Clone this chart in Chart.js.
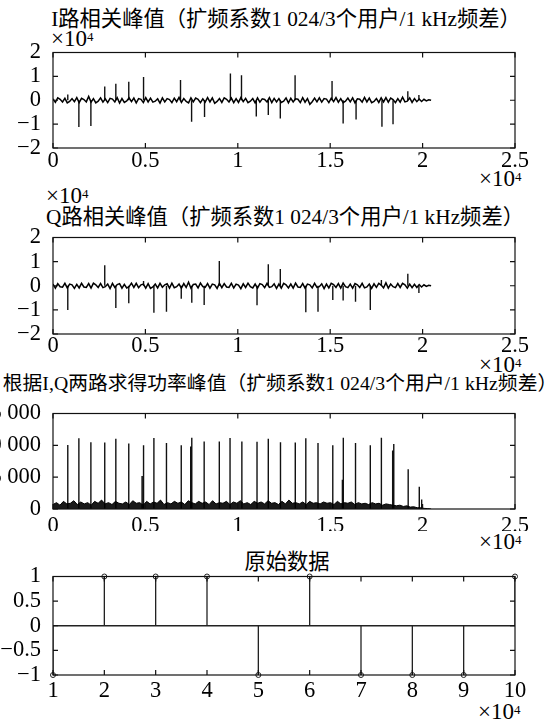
<!DOCTYPE html>
<html>
<head>
<meta charset="utf-8">
<script src="https://cdn.jsdelivr.net/npm/chart.js@4.4.1/dist/chart.umd.min.js"></script>
<style>
body { margin: 0; background: #fff; }
#wrap { position: relative; width: 548px; height: 723px; overflow: hidden; color: #000;
  font-family: "Liberation Serif", "Noto Sans CJK SC", serif; }
canvas { position: absolute; left: 0; }
.title { position: absolute; white-space: nowrap; font-size: 21.3px; line-height: 20px; transform: translateX(-50%); }
.exp { position: absolute; white-space: nowrap; font-size: 23px; line-height: 23px; }
.exp sup { font-size: 13px; position: relative; top: -2px; vertical-align: top; }
</style>
</head>
<body>
<div id="wrap">
  <div class="title" style="left:286px; top:9px">I路相关峰值（扩频系数1 024/3个用户/1 kHz频差）</div>
  <div class="exp" style="left:51px; top:27px">×10<sup>4</sup></div>
  <div class="exp" style="left:479px; top:167px">×10<sup>4</sup></div>

  <div class="exp" style="left:46px; top:184px">×10<sup>4</sup></div>
  <div class="title" style="left:285px; top:207px">Q路相关峰值（扩频系数1 024/3个用户/1 kHz频差）</div>
  <div class="exp" style="left:479px; top:353px">×10<sup>4</sup></div>

  <div class="title" style="left:280px; top:373px; font-size:19.8px">根据I,Q两路求得功率峰值（扩频系数1 024/3个用户/1 kHz频差）</div>
  <div class="exp" style="left:479px; top:530px">×10<sup>4</sup></div>

  <div class="title" style="left:287px; top:552px">原始数据</div>
  <div class="exp" style="left:478px; top:700px">×10<sup>4</sup></div>

  <canvas id="cI"></canvas>
  <canvas id="cQ"></canvas>
  <canvas id="cP"></canvas>
  <canvas id="cS"></canvas>
</div>
<script>
// x in units of 1e4 samples, I/Q amplitude in units of 1e4
var traceEnd = 2.046;

var iPeakX = [0.08, 0.14, 0.205, 0.28, 0.34, 0.41, 0.49, 0.69, 0.75, 0.82, 0.96, 1.02,
  1.10, 1.165, 1.23, 1.31, 1.51, 1.57, 1.64, 1.78, 1.84, 1.92, 1.98];
var iPeakY = [0.24, -1.12, -1.08, 0.58, 0.69, 0.77, 0.97, 0.85, -0.9, -0.7, 1.12, 1.05,
  -0.68, -0.62, -0.76, 1.05, 0.81, -0.97, -0.81, -1.11, -1.01, 0.38, 0.22];

var qPeakX = [0.08, 0.28, 0.34, 0.41, 0.49, 0.546, 0.614, 0.694, 0.751, 0.818, 0.90, 1.104,
  1.165, 1.23, 1.368, 1.434, 1.514, 1.57, 1.637, 1.717, 1.777, 1.92, 1.98];
var qPeakY = [-1.0, 0.85, -0.92, -0.73, 0.2, -1.12, -1.08, -0.54, -0.7, -0.8, 1.03, -0.81,
  0.89, 0.69, -1.1, -1.08, -0.59, -0.61, -0.66, -1.0, 0.24, 0.5, -0.3];

var pPeakX = [0.08, 0.14, 0.205, 0.28, 0.34, 0.41, 0.482, 0.49, 0.546, 0.614, 0.694, 0.745, 0.751,
  0.818, 0.90, 0.958, 1.022, 1.104, 1.165, 1.231, 1.311, 1.368, 1.434, 1.514, 1.566, 1.571,
  1.637, 1.717, 1.777, 1.838, 1.844, 1.922, 1.982, 1.995];
var pPeakY = [10050, 11100, 10500, 10450, 11050, 10300, 5200, 10000, 11150, 10350, 10000, 9800, 11200,
  10600, 10600, 11150, 10600, 10550, 11050, 10500, 10450, 11100, 10350, 10000, 4600, 11200,
  10350, 10000, 11200, 9200, 10200, 6250, 3500, 1500];

var iNoise = [
  0.06, -0.09, 0.10, 0.04, -0.07, 0.08, -0.11, -0.05, 0.07, -0.06, 0.11, -0.10, 0.08, 0.03, -0.07, 0.16, -0.08, 0.07, -0.11, -0.04,
  0.10, -0.08, 0.06, -0.10, 0.08, 0.05, -0.07, 0.11, -0.12, 0.07, -0.09, -0.03, 0.10, -0.06, 0.09, -0.11, 0.07, 0.04, -0.10, 0.11,
  -0.07, 0.09, -0.08, -0.04, 0.06, -0.12, 0.10, -0.07, 0.07, 0.03, -0.10, 0.09, -0.06, 0.12, -0.09, 0.07, -0.05, -0.11, 0.10, -0.07,
  0.09, 0.04, -0.10, 0.06, -0.08, 0.11, -0.07, 0.10, -0.13, -0.05, 0.07, -0.09, 0.10, 0.04, -0.07, 0.09, -0.10, 0.07, -0.09, 0.11,
  -0.06, 0.08, -0.10, -0.04, 0.07, -0.11, 0.10, -0.08, 0.06, 0.03, -0.07, 0.11, -0.10, 0.08, -0.07, 0.07, -0.09, -0.04, 0.10, -0.11,
  0.08, -0.07, 0.06, 0.04, -0.10, 0.11, -0.08, 0.07, -0.17, -0.06, 0.09, -0.07, 0.10, -0.08, 0.07, 0.05, -0.10, 0.09, -0.06, 0.11,
  -0.08, 0.07, -0.10, -0.04, 0.09, -0.07, 0.10, -0.11, 0.06, 0.04, -0.08, 0.12, -0.07, 0.09, -0.10, -0.05, 0.07, -0.09, 0.10, -0.07,
  0.11, -0.08, 0.09, 0.03, -0.10, 0.07, -0.08, 0.13, -0.07, -0.04, 0.10, -0.09, 0.07, -0.06, 0.05, -0.05, 0.04, -0.03, 0.02, 0.00
];

var qNoise = [
  0.07, -0.10, 0.09, -0.04, -0.06, 0.10, -0.09, 0.07, 0.04, -0.11, 0.06, -0.09, 0.10, -0.05, -0.07, 0.09, -0.10, 0.11, 0.04, -0.07,
  0.09, -0.08, -0.04, 0.07, -0.12, 0.10, -0.07, 0.05, 0.09, -0.10, 0.06, -0.09, -0.04, 0.11, -0.07, 0.10, -0.08, 0.04, 0.07, -0.10,
  0.09, -0.11, -0.05, 0.07, -0.09, 0.10, -0.06, 0.04, 0.08, -0.10, 0.11, -0.08, -0.04, 0.07, -0.10, 0.09, -0.07, 0.15, -0.10, 0.05,
  0.07, -0.09, 0.11, -0.04, -0.07, 0.09, -0.10, 0.07, 0.04, -0.11, 0.10, -0.08, 0.09, -0.05, -0.07, 0.10, -0.09, 0.07, 0.03, -0.12,
  0.08, -0.07, 0.11, -0.04, -0.09, 0.07, -0.10, 0.09, 0.05, -0.08, 0.10, -0.07, -0.04, 0.08, -0.11, 0.07, -0.10, 0.10, 0.04, -0.09,
  0.07, -0.10, 0.11, -0.05, -0.07, 0.09, -0.10, 0.07, 0.04, -0.09, 0.10, -0.07, -0.04, 0.08, -0.12, 0.07, -0.09, 0.10, 0.05, -0.07,
  0.09, -0.10, 0.11, -0.04, -0.08, 0.07, -0.10, 0.09, 0.04, -0.07, 0.10, -0.09, -0.05, 0.07, -0.11, 0.08, -0.07, 0.10, 0.03, -0.09,
  0.12, -0.10, 0.07, -0.04, -0.08, 0.09, -0.07, 0.10, 0.04, -0.10, 0.07, -0.08, 0.06, -0.07, 0.05, -0.05, 0.04, -0.03, 0.02, 0.00
];

var pNoise = [
  700, 1000, 600, 1200, 800, 900, 1300, 700, 1100, 800, 1000, 600, 1200, 900, 1400, 800, 1000, 700, 1200, 900,
  800, 1100, 700, 1300, 900, 1000, 600, 1200, 800, 1100, 900, 1400, 700, 1000, 800, 1200, 900, 1100, 700, 1300,
  1000, 800, 1200, 900, 1100, 700, 1300, 800, 1000, 900, 1200, 700, 1100, 900, 1300, 800, 1000, 700, 1200, 900,
  1100, 800, 1300, 900, 1000, 700, 1200, 800, 1400, 900, 1000, 800, 1100, 700, 1200, 900, 1000, 800, 1100, 900,
  1000, 700, 1200, 800, 1000, 900, 1100, 700, 1000, 800, 900, 700, 1000, 800, 900, 600, 800, 700, 600, 500,
  600, 400, 500, 300, 350, 200, 200, 100, 60, 0
];

var stemX = [1, 2, 3, 4, 5, 6, 7, 8, 9, 10];
var stemY = [-1, 1, 1, 1, -1, 1, -1, -1, -1, 1];

var iTicksY = [-2, -1, 0, 1, 2];
var pTicksY = [0, 5000, 10000, 15000];

var plotLeft = 53, plotRight = 515;
// plot box edges and x label offset for each panel
var boxes = {
  cI: { top: 51, bottom: 148, lab: -8 },
  cQ: { top: 236, bottom: 334, lab: -9 },
  cP: { top: 412, bottom: 509, lab: -4 },
  cS: { top: 575, bottom: 675, lab: -5 }
};

var FONT = { family: "'Liberation Serif', serif", size: 22.5 };

function noisePoints(vals) {
  var step = traceEnd / (vals.length - 1);
  return vals.map(function (v, i) { return { x: i * step, y: v }; });
}

function spikes(xs, ys, base) {
  var pts = [];
  xs.forEach(function (x, i) {
    pts.push({ x: x, y: base }, { x: x, y: ys[i] }, { x: x, y: null });
  });
  return pts;
}

function minusFmt(v) {
  var s = String(Math.abs(v));
  return v < 0 ? '\u2212' + s : s;
}

function thousands(v) {
  return String(v).replace(/\B(?=(\d{3})+(?!\d))/g, ' ');
}

// MATLAB style box with inward ticks on all four sides
var boxTicks = {
  id: 'boxTicks',
  afterDraw: function (chart) {
    var a = chart.chartArea, ctx = chart.ctx, len = 5;
    ctx.save();
    ctx.strokeStyle = '#111';
    ctx.lineWidth = 1.2;
    ctx.strokeRect(a.left, a.top, a.right - a.left, a.bottom - a.top);
    ctx.beginPath();
    chart.scales.x.ticks.forEach(function (t) {
      var px = chart.scales.x.getPixelForValue(t.value);
      ctx.moveTo(px, a.bottom); ctx.lineTo(px, a.bottom - len);
      ctx.moveTo(px, a.top); ctx.lineTo(px, a.top + len);
    });
    chart.scales.y.ticks.forEach(function (t) {
      var py = chart.scales.y.getPixelForValue(t.value);
      ctx.moveTo(a.left, py); ctx.lineTo(a.left + len, py);
      ctx.moveTo(a.right, py); ctx.lineTo(a.right - len, py);
    });
    ctx.stroke();
    ctx.restore();
  }
};

function makeChart(id, datasets, xOpt, yOpt) {
  var b = boxes[id];
  var padTop = 16, axisH = 22, padBottom = 4;
  var canvas = document.getElementById(id);
  canvas.width = 548;
  canvas.height = b.bottom - b.top + padTop + axisH + padBottom;
  canvas.style.top = (b.top - padTop) + 'px';
  xOpt.ticks.padding = b.lab;
  return new Chart(canvas, {
    type: 'scatter',
    data: { datasets: datasets },
    options: {
      responsive: false,
      animation: false,
      events: [],
      layout: { padding: { left: 0, right: 548 - plotRight, top: padTop, bottom: padBottom } },
      plugins: { legend: { display: false }, tooltip: { enabled: false } },
      scales: {
        x: Object.assign({
          type: 'linear',
          grid: { display: false },
          border: { display: false },
          afterFit: function (s) { s.height = axisH; }
        }, xOpt),
        y: Object.assign({
          type: 'linear',
          grid: { display: false },
          border: { display: false },
          afterFit: function (s) { s.width = plotLeft; }
        }, yOpt)
      }
    },
    plugins: [boxTicks]
  });
}

function line(data, w, color, extra) {
  return Object.assign({
    data: data, showLine: true, borderColor: color, borderWidth: w,
    pointRadius: 0, tension: 0, spanGaps: false
  }, extra || {});
}

function xTime() {
  return {
    min: 0, max: 2.5,
    ticks: { font: FONT, color: '#000', stepSize: 0.5, maxRotation: 0, autoSkip: false,
      callback: function (v) { return String(v); } }
  };
}

function yFixed(min, max, list, fmt) {
  return {
    min: min, max: max,
    afterBuildTicks: function (s) { s.ticks = list.map(function (v) { return { value: v }; }); },
    ticks: { font: FONT, color: '#000', padding: 4, autoSkip: false, callback: fmt }
  };
}

makeChart('cI', [
  line(noisePoints(iNoise), 1.5, '#000'),
  line(spikes(iPeakX, iPeakY, 0), 1.4, '#111')
], xTime(), yFixed(-2, 2, iTicksY, minusFmt));

makeChart('cQ', [
  line(noisePoints(qNoise), 1.5, '#000'),
  line(spikes(qPeakX, qPeakY, 0), 1.4, '#111')
], xTime(), yFixed(-2, 2, iTicksY, minusFmt));

makeChart('cP', [
  line(noisePoints(pNoise), 1, '#000', { fill: 'origin', backgroundColor: 'rgba(0,0,0,0.9)' }),
  line(spikes(pPeakX, pPeakY, 0), 1.4, '#111')
], xTime(), yFixed(0, 15000, pTicksY, thousands));

var stemMarkers = stemX.map(function (x, i) { return { x: x, y: stemY[i] }; });
makeChart('cS', [
  line([{ x: stemX[0], y: 0 }, { x: stemX[stemX.length - 1], y: 0 }], 1.5, '#222'),
  line(spikes(stemX, stemY, 0), 1.3, '#222'),
  {
    data: stemMarkers, showLine: false, clip: false, pointRadius: 2.5, pointStyle: 'circle',
    borderColor: '#222', borderWidth: 1, backgroundColor: '#fff'
  }
], {
  min: 1, max: 10,
  ticks: { font: FONT, color: '#000', stepSize: 1, maxRotation: 0, autoSkip: false,
    callback: function (v) { return String(v); } }
}, {
  min: -1, max: 1,
  ticks: { font: FONT, color: '#000', padding: 4, stepSize: 0.5, autoSkip: false, callback: minusFmt }
});
</script>
</body>
</html>
